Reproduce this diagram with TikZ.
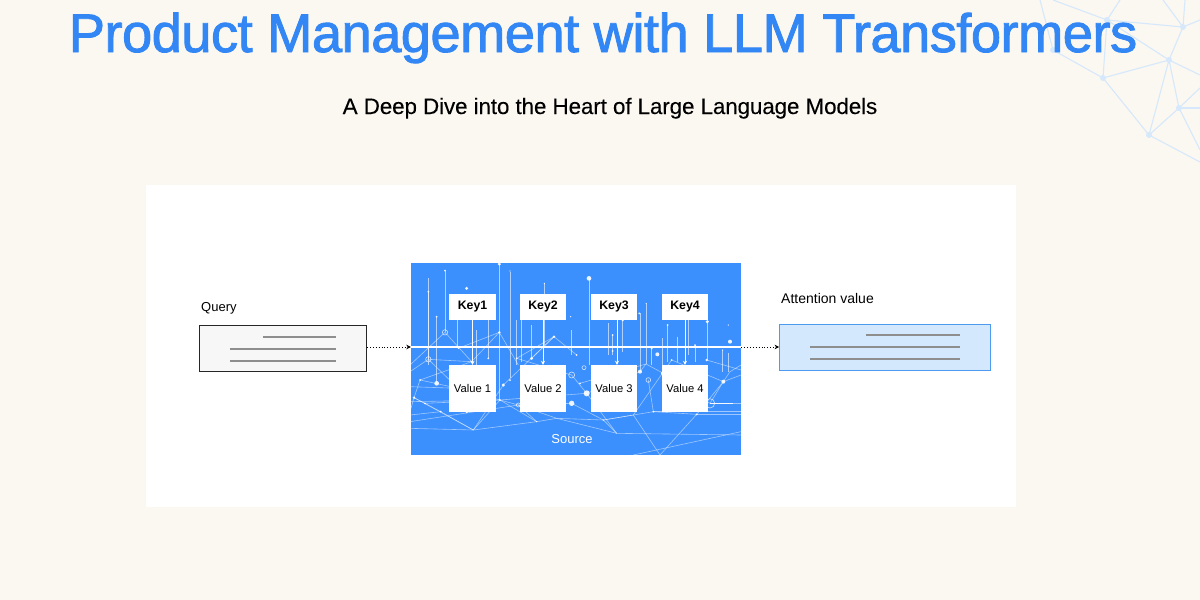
\documentclass[tikz,border=0pt]{standalone}
\usepackage{fontspec}
\setmainfont{Liberation Sans}
\newfontfamily\titlefont[FakeBold=1.6,LetterSpace=-1.0]{Liberation Sans}
\newfontfamily\subfont[FakeBold=0.15,LetterSpace=-0.5]{Liberation Sans}
\usetikzlibrary{arrows.meta,positioning}
\definecolor{pagebg}{HTML}{FBF8F2}
\definecolor{srcblue}{HTML}{3C90FD}
\definecolor{titleblue}{HTML}{3287F5}
\definecolor{netblue}{HTML}{D6E8FB}
\definecolor{attfill}{HTML}{D3E7FD}
\definecolor{attline}{HTML}{4C9BEF}
\definecolor{qfill}{HTML}{F7F7F7}
\definecolor{rulegrey}{HTML}{8E8E8E}
\tikzset{
  keybox/.style={fill=white,minimum width=46.5pt,minimum height=26pt,inner sep=0pt,
     font=\fontsize{12.3}{15}\selectfont\bfseries},
  valuebox/.style={fill=white,minimum width=46.5pt,minimum height=47pt,inner sep=0pt,
     font=\fontsize{11.2}{14}\selectfont},
  keyarrow/.style={white,line width=1pt,-{Stealth[length=4pt,width=4pt]}},
  dotarrow/.style={black,line width=0.9pt,dotted,-{Stealth[length=4.5pt,width=4.5pt]}},
  netline/.style={white,opacity=.5,line width=0.6pt},
  bgline/.style={netblue,line width=1.1pt},
  textrule/.style={rulegrey,line width=1.1pt},
}
\begin{document}
\begin{tikzpicture}[x=1pt,y=-1pt]
\useasboundingbox (0,0) rectangle (1200,600);
\fill[pagebg] (0,0) rectangle (1200,600);
% background mesh, top right
\foreach \a/\b/\c/\d in {1040/0/1053/50,1053/50/1103/78,1053/0/1107/20,1107/20/1103/78,1107/20/1120/0,1107/20/1183/27,1107/20/1169/60,1103/78/1169/60,1103/78/1149/135,1169/60/1183/27,1183/27/1163/0,1183/27/1185/0,1183/27/1200/20,1169/60/1200/75,1169/60/1149/135,1169/60/1179/108,1179/108/1149/135,1179/108/1200/108,1179/108/1200/88,1179/108/1200/150,1149/135/1200/162}
  \draw[bgline] (\a,\b) -- (\c,\d);
\foreach \a/\b in {1107/20,1183/27,1169/60,1103/78,1179/108,1149/135,1053/50}
  \fill[netblue] (\a,\b) circle (3pt);
% title
\node[inner sep=0pt,text=titleblue,anchor=base] (title) at (603,52) {\titlefont\fontsize{54.3}{60}\selectfont Product Management with LLM Transformers};
\node[inner sep=0pt,anchor=base] (subtitle) at (610,114) {\subfont\fontsize{22.4}{28}\selectfont A Deep Dive into the Heart of Large Language Models};
% panel
\fill[white] (146,185) rectangle (1016,507);
% source
\node[fill=srcblue,minimum width=330pt,minimum height=192pt,inner sep=0pt] (source) at (576,359) {};
\begin{scope}
\clip (411,263) rectangle (741,455);
\begin{scope}[shift={(400pt,-255pt)},x=0.33333pt,y=-0.33333pt]
\foreach \a/\b/\c in {85/70/330,85/110/313,135/47/232,298/27/435,330/50/370,433/85/270,567/70/330,110/185/385,172/195/280,228/225/330,265/195/310,348/195/330,363/195/320,395/210/310,513/225/300,625/205/300,638/240/300,668/195/290,720/175/350,738/145/327,755/280/330,788/250/330,803/210/320,832/245/320,865/195/300,885/270/320,922/200/315,968/285/350,985/295/350}
  \draw[netline,opacity=.6] (\a,\b) -- (\a,\c);
\foreach \a/\b/\c/\d in {135/232/215/320,215/320/60/375,60/375/42/428,42/428/220/525,220/525/310/390,175/280/298/232,298/232/215/320,298/232/355/330,60/375/175/400,175/400/300/435,300/435/410/500,410/500/470/490,462/245/350/310,462/245/530/300,462/245/395/310,350/310/515/360,515/360/560/415,560/415/650/535,650/535/610/495,610/495/700/480,700/480/780/600,780/600/890/478,890/478/970/380,970/380/990/350,990/350/1023/330,30/480/122/470,122/470/220/525,75/445/122/470,42/428/75/445,75/445/300/435,300/435/560/415,355/450/515/445,515/445/610/495,738/327/790/355,790/355/930/445,815/315/700/480,745/375/760/470,738/327/720/350,720/350/560/415,920/315/1023/345,815/315/970/380,760/470/1023/470,30/520/220/525,220/525/410/500,650/535/1023/540,700/600/1023/530,30/330/135/232,85/313/175/400,540/385/738/327,310/390/462/245,355/450/300/435,610/495/760/470,30/440/300/435,30/500/355/450,220/525/300/435,355/450/470/490,470/490/650/535,30/395/175/400,30/350/85/313,85/313/215/320,30/470/42/428,355/450/410/500,470/490/610/495,890/478/1023/478,760/470/890/478,970/380/1023/360,930/445/970/380,1023/445/930/445}
  \draw[netline] (\a,\b) -- (\c,\d);
\draw[white,line width=1pt,opacity=.9] (930,445) -- (1000,445);
\foreach \a/\b/\r in {298/27/5,135/47/3,85/110/3,200/100/5,110/185/3,330/48/2,433/85/2,567/70/7,298/232/4,462/245/4,175/280/2,215/320/3,265/310/3,350/310/3,395/310/5,530/300/3,60/375/3,42/428/4,75/445/3,122/470/3,110/385/7,200/470/5,310/390/5,300/435/3,330/375/3,515/445/8,560/415/9,410/500/2,610/495/2,720/350/6,772/298/6,990/260/6,970/380/6,922/200/5,803/210/3,668/195/4,718/175/3,638/240/3,638/288/3,815/315/3,920/315/4,885/270/3,890/478/3,760/470/3,790/355/7,540/385/3,512/185/2,738/145/1.5,755/280/3,968/285/2,985/210/2}
  \fill[white,opacity=.9] (\a,\b) circle (\r*1pt/3);
\foreach \a/\b/\r in {135/232/8,85/313/8,515/360/9,552/338/6,745/375/7,930/445/14,355/450/6}
  \draw[white,opacity=.75,line width=0.6pt] (\a,\b) circle (\r*1pt/3);
\end{scope}
\end{scope}
\node[inner sep=0pt,text=white,font=\fontsize{13}{15}\selectfont] (srclabel) at (572,439.5) {Source};
% horizontal bus
\coordinate (busL) at (411,347);
\coordinate (busR) at (741,347);
\draw[white,line width=1.1pt] (busL) -- (busR);
% keys and values
\node[keybox] (k1) at (472.5,306.5) {Key1};
\node[keybox] (k2) at (543,306.5) {Key2};
\node[keybox] (k3) at (614,306.5) {Key3};
\node[keybox] (k4) at (685,306.5) {Key4};
\node[valuebox] (v1) at (472.5,388.5) {Value 1};
\node[valuebox] (v2) at (543,388.5) {Value 2};
\node[valuebox] (v3) at (614,388.5) {Value 3};
\node[valuebox] (v4) at (685,388.5) {Value 4};
\draw[keyarrow] (k1.south) -- (v1.north);
\draw[keyarrow] (k2.south) -- (v2.north);
\draw[keyarrow] ([xshift=3pt]k3.south) -- ([xshift=3pt]v3.north);
\draw[keyarrow] (k4.south) -- (v4.north);
% query
\node[draw=black!85,line width=1pt,fill=qfill,minimum width=167pt,minimum height=46pt,inner sep=0pt] (query) at (283,348.5) {};
\draw[textrule] (262.5,337) -- (336,337);
\draw[textrule] (230,349) -- (336,349);
\draw[textrule] (230,361) -- (336,361);
\node[inner sep=0pt,anchor=west,font=\fontsize{13}{15}\selectfont] (qlabel) at (201,308.5) {Query};
% attention
\node[draw=attline,line width=0.8pt,fill=attfill,minimum width=211pt,minimum height=46pt,inner sep=0pt] (att) at (885,347) {};
\draw[textrule] (866,335) -- (960,335);
\draw[textrule] (810,347) -- (960,347);
\draw[textrule] (810,359) -- (960,359);
\node[inner sep=0pt,anchor=west,font=\fontsize{14}{16}\selectfont] (alabel) at (781,298) {Attention value};
% flows
\draw[dotarrow] (query.east |- busL) -- (source.west |- busL);
\draw[dotarrow] (source.east |- busR) -- (att.west |- busR);
\end{tikzpicture}
\end{document}
